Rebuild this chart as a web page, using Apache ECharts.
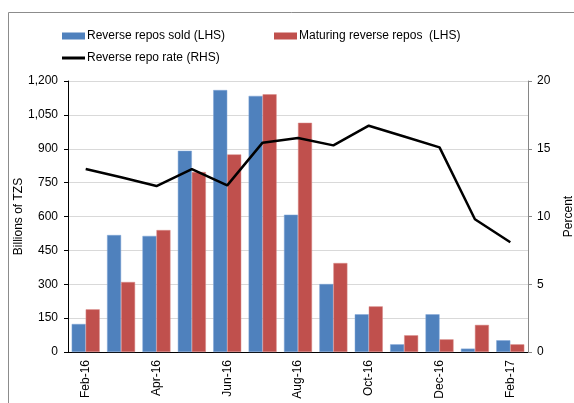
<!DOCTYPE html>
<html><head><meta charset="utf-8">
<script src="https://cdn.jsdelivr.net/npm/echarts@6/dist/echarts.min.js"></script>
<style>html,body{margin:0;padding:0;background:#fff}#c{width:574px;height:403px}</style>
</head><body><div id="c"></div>
<script>
const categories = ['Feb-16','Mar-16','Apr-16','May-16','Jun-16','Jul-16','Aug-16','Sep-16','Oct-16','Nov-16','Dec-16','Jan-17','Feb-17'];
const reposSold = [124, 518, 514, 891, 1160, 1134, 608, 301, 167, 34, 167, 15, 52];
const maturingRepos = [189, 310, 540, 797, 875, 1141, 1015, 394, 202, 74, 56, 120, 34];
const repoRate = [13.5, 12.9, 12.25, 13.5, 12.3, 15.45, 15.8, 15.25, 16.7, 15.9, 15.1, 9.8, 8.1];
const leftTicks = {min: 0, max: 1200, interval: 150};
const rightTicks = {min: 0, max: 20, interval: 5};

const font = 'Liberation Sans, Arial, sans-serif';
const chart = echarts.init(document.getElementById('c'));
const legText = {fontFamily: font, fontSize: 12, color: '#000', padding: [0,0,0,-3]};
chart.setOption({
  animation: false,
  textStyle: {fontFamily: font},
  graphic: [{type: 'rect', shape: {x: 8.5, y: 12.5, width: 700, height: 500}, style: {fill: 'none', stroke: '#8c8c8c', lineWidth: 1}}],
  legend: [
    {data: ['Reverse repos sold (LHS)'], left: 57, top: 25, icon: 'rect', itemWidth: 23, itemHeight: 7,
     itemStyle: {borderWidth: 0}, textStyle: legText},
    {data: ['Maturing reverse repos  (LHS)'], left: 269, top: 25, icon: 'rect', itemWidth: 23, itemHeight: 7,
     itemStyle: {borderWidth: 0}, textStyle: legText},
    {data: ['Reverse repo rate (RHS)'], left: 57, top: 47, icon: 'rect', itemWidth: 23, itemHeight: 3,
     itemStyle: {borderWidth: 0}, textStyle: legText}
  ],
  grid: {left: 68, right: 46, top: 81, bottom: 51, containLabel: false, outerBoundsMode: 'none'},
  xAxis: {
    type: 'category', data: categories, boundaryGap: true,
    axisLine: {lineStyle: {color: '#000', width: 1}},
    axisTick: {interval: 1, length: 4, lineStyle: {color: '#000'}},
    axisLabel: {interval: 1, rotate: 90, fontSize: 12, color: '#000', margin: 8, fontFamily: font}
  },
  yAxis: [
    {type: 'value', min: leftTicks.min, max: leftTicks.max, interval: leftTicks.interval,
     name: 'Billions of TZS', nameLocation: 'middle', nameGap: 43, nameRotate: 90, nameMoveOverlap: false,
     nameTextStyle: {fontSize: 12, color: '#000', fontFamily: font},
     axisLine: {show: true, lineStyle: {color: '#000'}},
     axisTick: {show: true, length: 4, inside: false, lineStyle: {color: '#000'}},
     axisLabel: {fontSize: 12, color: '#000', margin: 10, fontFamily: font,
       formatter: v => v.toLocaleString('en-US')},
     splitLine: {lineStyle: {color: '#d9d9d9'}}},
    {type: 'value', min: rightTicks.min, max: rightTicks.max, interval: rightTicks.interval, position: 'right',
     name: 'Percent', nameLocation: 'middle', nameGap: 35, nameRotate: 90, nameMoveOverlap: false,
     nameTextStyle: {fontSize: 12, color: '#000', fontFamily: font},
     axisLine: {show: true, lineStyle: {color: '#868686'}},
     axisTick: {show: true, length: 4, lineStyle: {color: '#868686'}},
     axisLabel: {fontSize: 12, color: '#000', margin: 9, fontFamily: font},
     splitLine: {show: false}}
  ],
  series: [
    {name: 'Reverse repos sold (LHS)', type: 'bar', data: reposSold, barWidth: 14, barGap: '0%',
     itemStyle: {color: '#4F81BD', borderColor: '#7ea4d6', borderWidth: 0.5}},
    {name: 'Maturing reverse repos  (LHS)', type: 'bar', data: maturingRepos, barWidth: 14,
     itemStyle: {color: '#C0504D', borderColor: '#d88a88', borderWidth: 0.5}},
    {name: 'Reverse repo rate (RHS)', type: 'line', yAxisIndex: 1, data: repoRate, symbol: 'none',
     lineStyle: {color: '#000', width: 2.5}, itemStyle: {color: '#000'}}
  ]
});
</script></body></html>
